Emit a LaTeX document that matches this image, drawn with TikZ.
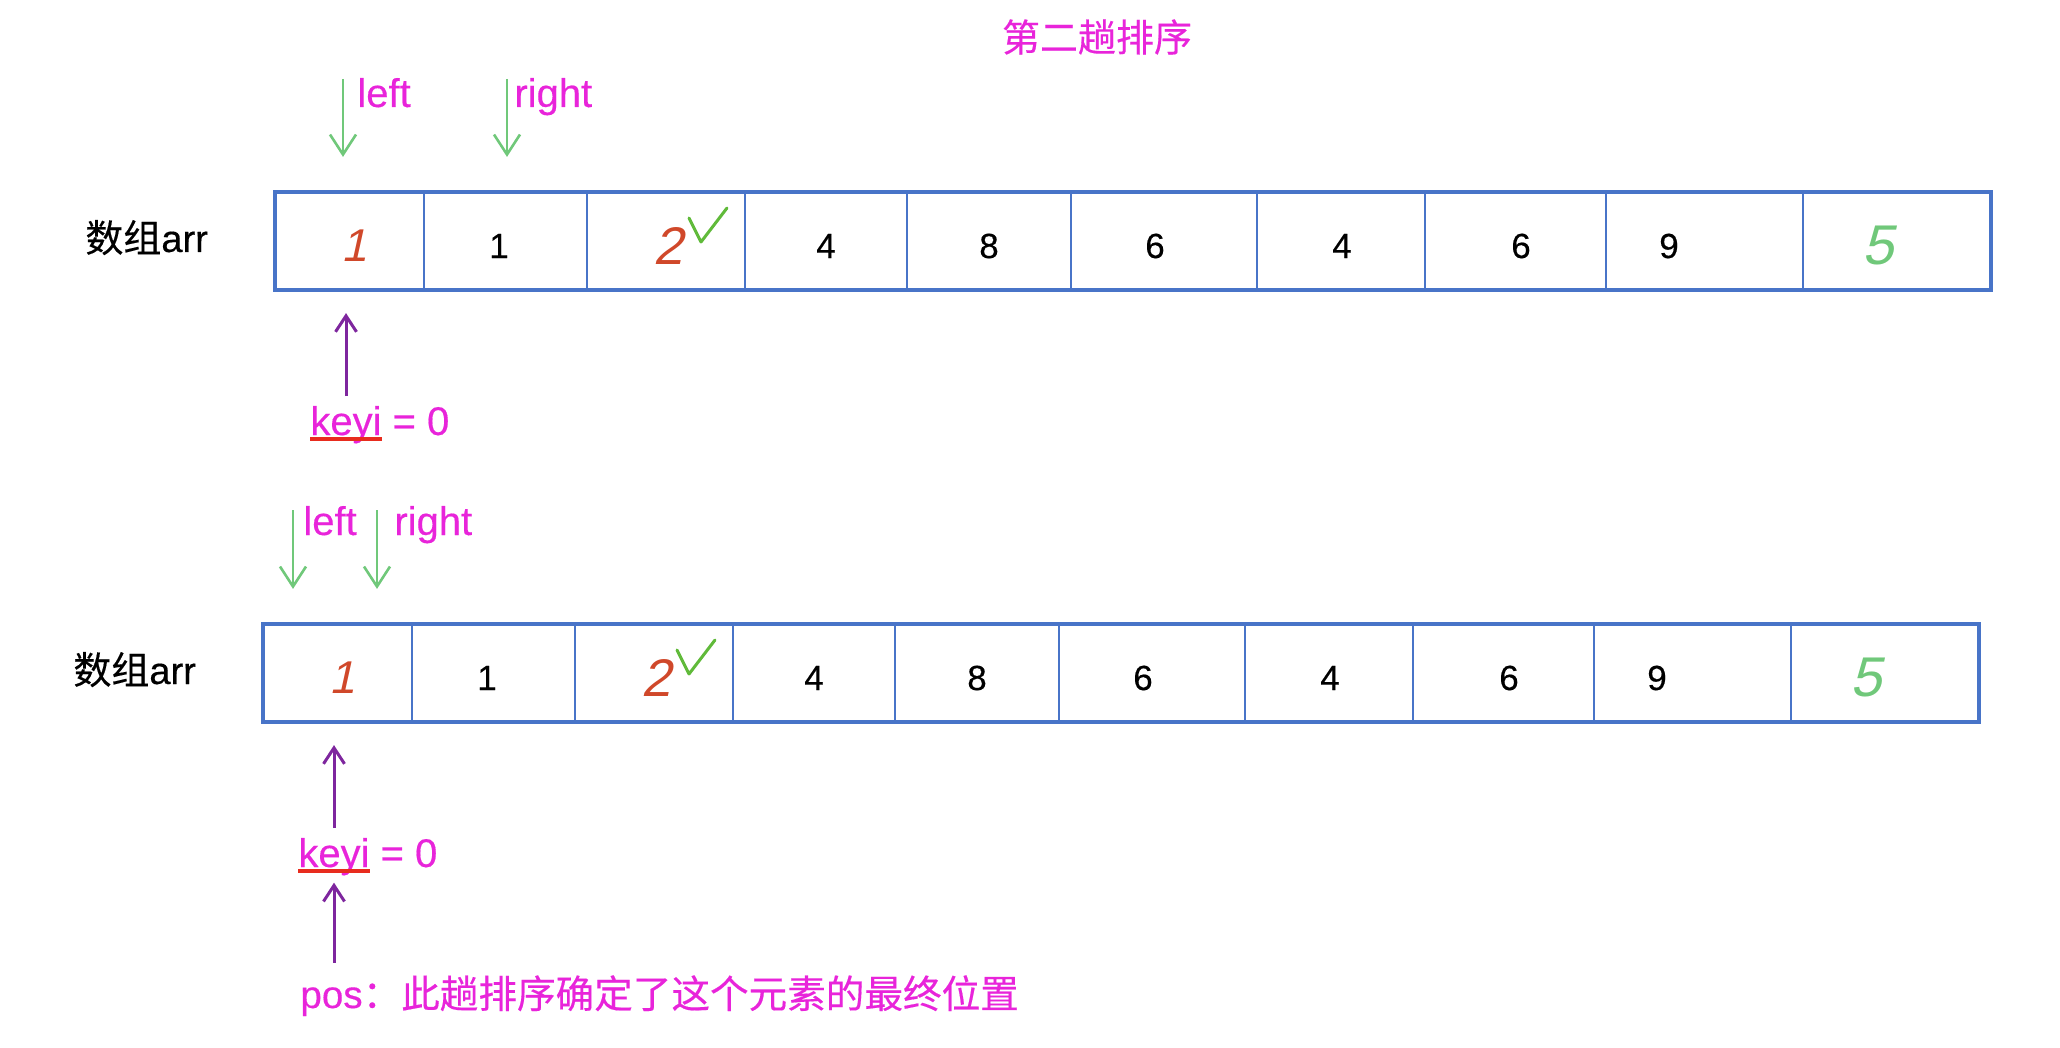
\documentclass[tikz,border=0pt]{standalone}
\usepackage{fontspec}
\setmainfont{Liberation Sans}[FakeBold=0.35]
\newfontfamily\cjk{Noto Sans CJK SC}[FakeBold=0.35]
\newfontfamily\handfont[FakeSlant=0.22]{Liberation Sans}
\usetikzlibrary{positioning,arrows.meta}
\usepackage{xcolor}
\definecolor{cellblue}{RGB}{72,116,200}
\definecolor{ptrgreen}{RGB}{112,200,122}
\definecolor{tickgreen}{RGB}{96,186,58}
\definecolor{notepink}{RGB}{232,36,218}
\definecolor{keypurple}{RGB}{126,38,158}
\definecolor{inkred}{RGB}{208,72,42}
\definecolor{markred}{RGB}{232,44,30}

\begin{document}
\begin{tikzpicture}[
    x=0.5pt, y=-0.5pt,
    cell/.style={rectangle, draw=cellblue, line width=1.1pt, inner sep=0pt,
                 minimum height=48pt},
    arrframe/.style={draw=cellblue, line width=1.8pt},
    num/.style={inner sep=0pt, font=\fontsize{17.5}{21}\selectfont},
    handone/.style={inner sep=0pt, text=inkred, font=\handfont\fontsize{23}{27}\selectfont},
    handtwo/.style={inner sep=0pt, text=inkred, font=\handfont\fontsize{26.5}{30}\selectfont},
    handfive/.style={inner sep=0pt, text=ptrgreen, font=\handfont\fontsize{28}{32}\selectfont},
    note/.style={inner sep=0pt, text=notepink, font=\fontsize{20}{24}\selectfont},
    rowname/.style={inner sep=0pt, font=\fontsize{19}{23}\selectfont},
    ptr/.style={draw=ptrgreen, line width=1.3pt, shorten >=17.5pt,
                -{Straight Barb[length=10pt,width=13pt]}},
    keyarrow/.style={draw=keypurple, line width=1.5pt,
                     -{Straight Barb[length=8pt,width=10.5pt]}},
    checkmark/.style={draw=tickgreen, line width=1.5pt, line cap=round, line join=round},
    keymark/.style={draw=markred, line width=2pt}
]
\useasboundingbox (0,0) rectangle (2060,1048);

% Title
\node[note, font=\cjk\fontsize{19}{23}\selectfont] (title) at (1097,37) {第二趟排序};

% Both arrays, the lower one moved by (-12,432)
\foreach \p/\dx/\dy in {u/0/0, l/-12/432} {
  \begin{scope}[shift={(\dx,\dy)}]
    \node[rowname, anchor=base west] (\p name) at (85,252) {{\cjk 数组}arr};
    \foreach \i/\l/\r/\tx/\v/\s in {1/276/424/354/1/handone, 2/424/587/499/1/num,
        3/587/745/668/2/handtwo, 4/745/907/826/4/num, 5/907/1071/989/8/num,
        6/1071/1257/1155/6/num, 7/1257/1425/1342/4/num, 8/1425/1606/1521/6/num,
        9/1606/1803/1669/9/num, 10/1803/1990/1878/5/handfive} {
      \node[cell, minimum width={(\r-\l)*0.5pt}] (\p c\i) at ({(\l+\r)/2},241) {};
      \node[\s] (\p v\i) at (\tx,246) {\v};
    }
    \draw[arrframe] (\p c1.north west) rectangle (\p c10.south east);
    \draw[checkmark] (689,218) -- (701,242) -- (727,208);
    % keyi under the first cell
    \node[note, anchor=base west] (\p key) at (310,435) {keyi = 0};
    \draw[keymark] ([yshift=-2pt]\p key.base west) -- ++(72,0);
    \coordinate (\p keyfoot) at (346,396);
    \draw[keyarrow, shorten >=11.5pt] (\p keyfoot) -- (\p keyfoot |- \p c1.south);
  \end{scope}
}

% pointers above the upper array
\node[note, anchor=base west] (uleft) at (357,107) {left};
\node[note, anchor=base west] (uright) at (514,107) {right};
\coordinate (ulefttop) at (343,79);
\coordinate (urighttop) at (507,79);
\draw[ptr] (ulefttop) -- (ulefttop |- uc1.north);
\draw[ptr] (urighttop) -- (urighttop |- uc2.north);

% pointers above the lower array
\node[note, anchor=base west] (lleft) at (303,535) {left};
\node[note, anchor=base west] (lright) at (394,535) {right};
\coordinate (llefttop) at (293,510);
\coordinate (lrighttop) at (377,510);
\draw[ptr] (llefttop) -- (llefttop |- lc1.north);
\draw[ptr] (lrighttop) -- (lrighttop |- lc1.north);

% what the fixed position means
\node[note, anchor=base west, font=\fontsize{19.3}{23}\selectfont] (pos) at (300,1008)
    {pos{\cjk ：此趟排序确定了这个元素的最终位置}};
\draw[keyarrow, shorten <=6pt, shorten >=3.5pt] (pos.north -| lkeyfoot) -- (lkey.south -| lkeyfoot);

\end{tikzpicture}
\end{document}
